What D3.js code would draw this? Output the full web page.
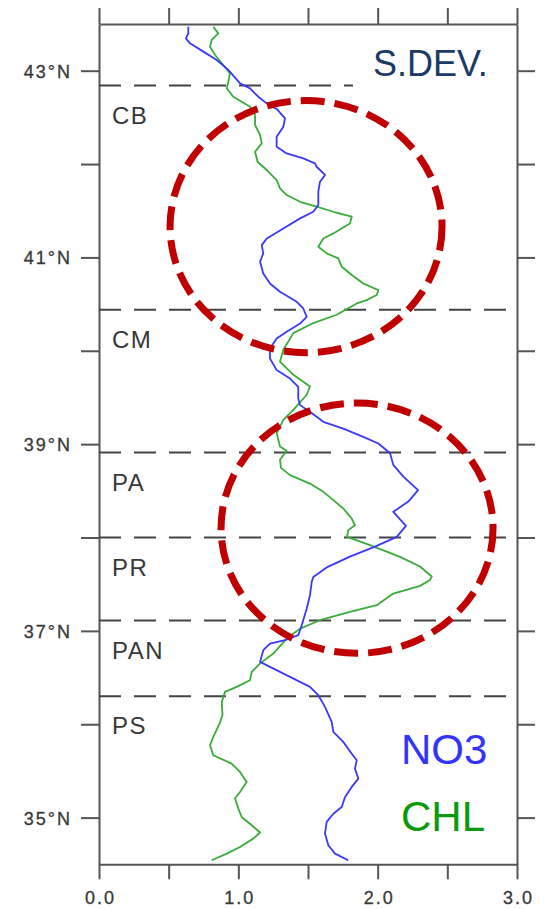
<!DOCTYPE html>
<html>
<head>
<meta charset="utf-8">
<script src="https://cdn.jsdelivr.net/npm/d3@7/dist/d3.min.js"></script>
<style>
  html, body { margin: 0; padding: 0; background: #fff; }
  svg { display: block; }
  text { font-family: "Liberation Sans", Arial, sans-serif; }
</style>
</head>
<body>
<svg id="chart" width="548" height="909"></svg>
<script>
// Latitudinal profile of standard deviation: nitrate (NO3) and chlorophyll (CHL)
const no3Lat = [43.471,43.400,43.346,43.293,43.204,43.115,43.008,42.864,42.810,42.721,42.650,42.590,42.489,42.400,42.293,42.186,42.114,42.060,42.007,41.971,41.883,41.811,41.704,41.561,41.489,41.418,41.310,41.203,41.132,41.043,40.954,40.828,40.721,40.632,40.525,40.453,40.364,40.292,40.204,40.132,40.025,39.918,39.793,39.703,39.614,39.489,39.418,39.346,39.239,39.167,39.078,39.007,38.902,38.778,38.653,38.507,38.385,38.275,38.125,38.007,37.902,37.796,37.680,37.578,37.525,37.382,37.239,37.061,36.954,36.900,36.864,36.793,36.668,36.614,36.507,36.400,36.311,36.186,36.025,35.918,35.811,35.685,35.614,35.525,35.418,35.329,35.221,35.114,35.042,34.954,34.828,34.704,34.614,34.543];
const no3Val = [0.641,0.641,0.624,0.653,0.749,0.845,0.928,1.012,1.084,1.143,1.204,1.275,1.335,1.323,1.275,1.275,1.347,1.466,1.550,1.562,1.622,1.586,1.574,1.574,1.538,1.443,1.323,1.204,1.168,1.179,1.156,1.179,1.227,1.299,1.419,1.466,1.491,1.443,1.347,1.275,1.227,1.227,1.275,1.371,1.430,1.430,1.443,1.514,1.610,1.753,1.897,2.005,2.089,2.112,2.184,2.290,2.220,2.112,2.203,2.137,1.981,1.801,1.634,1.538,1.527,1.514,1.491,1.455,1.430,1.335,1.227,1.179,1.156,1.227,1.371,1.514,1.574,1.622,1.670,1.682,1.753,1.814,1.850,1.837,1.861,1.814,1.766,1.742,1.682,1.634,1.622,1.646,1.694,1.789];

const chlLat = [43.471,43.400,43.329,43.257,43.168,43.061,42.971,42.882,42.810,42.721,42.614,42.525,42.418,42.311,42.221,42.132,42.025,41.936,41.829,41.739,41.668,41.596,41.543,41.489,41.436,41.364,41.257,41.203,41.114,41.043,40.989,40.900,40.811,40.721,40.650,40.597,40.543,40.507,40.386,40.297,40.189,40.011,39.885,39.743,39.618,39.529,39.368,39.261,39.118,38.975,38.929,38.832,38.746,38.668,38.578,38.489,38.400,38.311,38.203,38.132,38.079,38.007,37.918,37.793,37.689,37.582,37.546,37.482,37.400,37.275,37.204,37.114,37.024,36.918,36.757,36.652,36.560,36.472,36.400,36.346,36.239,36.100,36.015,35.864,35.775,35.668,35.578,35.489,35.382,35.275,35.204,35.096,35.007,34.918,34.841,34.775,34.686,34.614,34.543];
const chlVal = [0.820,0.856,0.809,0.797,0.833,0.892,0.940,0.928,0.917,0.964,1.084,1.120,1.120,1.156,1.168,1.120,1.138,1.204,1.275,1.299,1.347,1.443,1.562,1.682,1.814,1.801,1.682,1.610,1.574,1.634,1.718,1.742,1.814,1.897,2.005,1.993,1.921,1.850,1.706,1.538,1.395,1.323,1.299,1.395,1.514,1.491,1.395,1.323,1.275,1.299,1.347,1.299,1.306,1.371,1.514,1.610,1.682,1.753,1.814,1.837,1.789,1.780,1.945,2.160,2.304,2.388,2.376,2.304,2.112,1.993,1.801,1.586,1.443,1.347,1.251,1.156,1.096,1.084,0.988,0.904,0.881,0.886,0.868,0.820,0.797,0.820,0.952,1.012,1.060,1.012,0.976,1.000,1.024,1.096,1.156,1.107,1.012,0.917,0.809];

// Sub-region boundaries (latitude) and region names placed just south of each
const regionNames = ["CB", "CM", "PA", "PR", "PAN", "PS"];
const regionLat = [42.84, 40.44, 38.91, 38.00, 37.11, 36.30];

// Highlighted zones: centre (value, latitude) and radii (value units, degrees)
const zoneX = [1.486, 1.852];
const zoneLat = [41.33, 38.10];
const zoneRx = [0.976, 0.976];
const zoneRy = [1.35, 1.34];

const xTicks = [0, 0.5, 1, 1.5, 2, 2.5, 3];
const yTicks = [35, 36, 37, 38, 39, 40, 41, 42, 43];

const svg = d3.select("#chart");
const x = d3.scaleLinear().domain([0, 3]).range([99, 517]);
const y = d3.scaleLinear().domain([34.5, 43.5]).range([864.3, 24]);

const axisColor = "#555";
const labelColor = "#383838";

// Frame axes
function styleAxis(g) {
  g.select(".domain").attr("stroke", axisColor).attr("stroke-width", 2);
  g.selectAll(".tick line").attr("stroke", axisColor).attr("stroke-width", 2);
  g.selectAll(".tick text")
    .attr("fill", labelColor)
    .style("font-size", "18px")
    .style("letter-spacing", "2px")
    .style("stroke", labelColor)
    .style("stroke-width", "0.3px");
}

svg.append("g").attr("transform", `translate(${x(0)},0)`)
  .call(d3.axisLeft(y).tickValues(yTicks).tickSize(18).tickSizeOuter(0).tickPadding(9)
    .tickFormat(d => d % 2 === 1 ? d + "°N" : ""))
  .call(styleAxis)
  .call(g => g.selectAll(".tick text").attr("dy", "0.36em"));

svg.append("g").attr("transform", `translate(${x(3)},0)`)
  .call(d3.axisRight(y).tickValues(yTicks).tickSize(18).tickSizeOuter(0).tickFormat(""))
  .call(styleAxis);

svg.append("g").attr("transform", `translate(0,${y(43.5)})`)
  .call(d3.axisTop(x).tickValues(xTicks).tickSize(16).tickSizeOuter(0).tickFormat(""))
  .call(styleAxis);

svg.append("g").attr("transform", `translate(0,${y(34.5)})`)
  .call(d3.axisBottom(x).tickValues(xTicks).tickSize(15).tickSizeOuter(0).tickPadding(12)
    .tickFormat(d => Number.isInteger(d) ? d.toFixed(1) : ""))
  .call(styleAxis)
  .call(g => g.selectAll(".tick text").attr("dx", "1px"));

// Region boundary lines
svg.append("g").selectAll("line")
  .data(regionLat)
  .join("line")
  .attr("x1", x(0))
  .attr("x2", (d, i) => i === 0 ? x(1.823) : x(3))
  .attr("y1", d => y(d))
  .attr("y2", d => y(d))
  .attr("stroke", "#444")
  .attr("stroke-width", 2)
  .attr("stroke-dasharray", "22,13");

svg.append("g").selectAll("text")
  .data(regionNames)
  .join("text")
  .attr("x", 112)
  .attr("y", (d, i) => y(regionLat[i]) + 38)
  .attr("fill", labelColor)
  .style("font-size", "24px")
  .style("letter-spacing", "1.5px")
  .text(d => d);

// Profiles
const line = d3.line().x(d => x(d[0])).y(d => y(d[1]));

svg.append("path")
  .datum(d3.zip(chlVal, chlLat))
  .attr("d", line)
  .attr("fill", "none")
  .attr("stroke", "#3aac3a")
  .attr("stroke-width", 1.8)
  .attr("stroke-linejoin", "round");

svg.append("path")
  .datum(d3.zip(no3Val, no3Lat))
  .attr("d", line)
  .attr("fill", "none")
  .attr("stroke", "#3a3af5")
  .attr("stroke-width", 1.8)
  .attr("stroke-linejoin", "round");

// Highlighted zones
svg.append("g").selectAll("ellipse")
  .data(zoneX)
  .join("ellipse")
  .attr("cx", d => x(d))
  .attr("cy", (d, i) => y(zoneLat[i]))
  .attr("rx", (d, i) => x(zoneRx[i]) - x(0))
  .attr("ry", (d, i) => y(0) - y(zoneRy[i]))
  .attr("fill", "none")
  .attr("stroke", "#c00000")
  .attr("stroke-width", 7)
  .attr("stroke-dasharray", "24,10");

// Title and legend
svg.append("text")
  .attr("x", 373).attr("y", 76)
  .attr("fill", "#1b3a66")
  .style("font-size", "36px")
  .text("S.DEV.");

svg.append("text")
  .attr("x", 401).attr("y", 764)
  .attr("fill", "#3333ff")
  .style("font-size", "42px")
  .text("NO3");

svg.append("text")
  .attr("x", 401).attr("y", 831)
  .attr("fill", "#0a9a0a")
  .style("font-size", "42px")
  .text("CHL");
</script>
</body>
</html>
